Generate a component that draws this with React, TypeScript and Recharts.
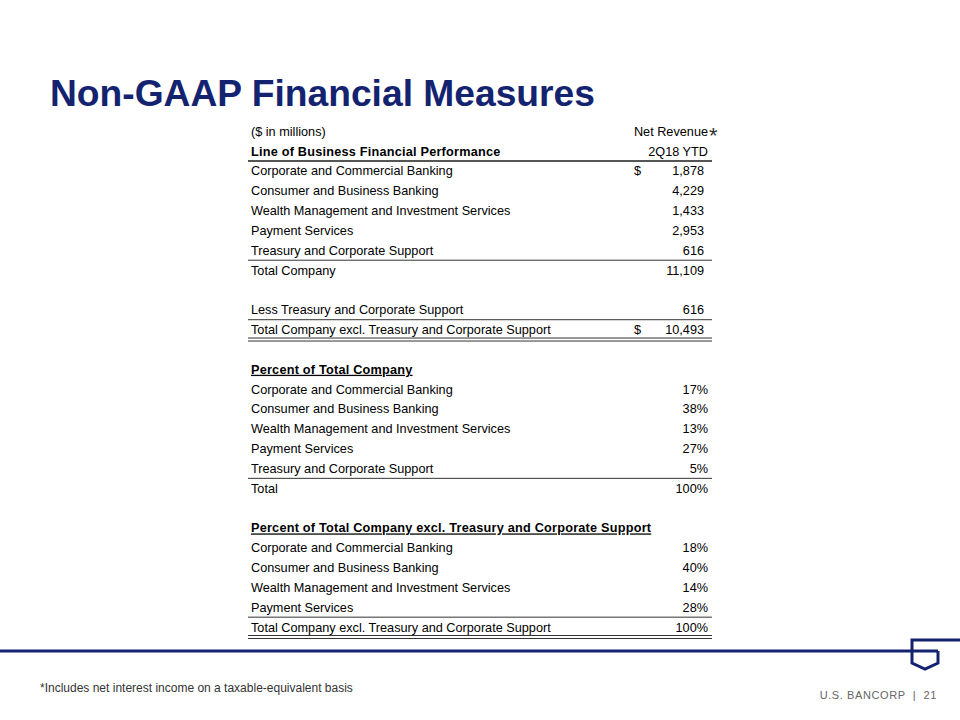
import { ComposedChart, XAxis, YAxis, Bar, ReferenceLine } from 'recharts'

const segments = [
  'Corporate and Commercial Banking',
  'Consumer and Business Banking',
  'Wealth Management and Investment Services',
  'Payment Services',
  'Treasury and Corporate Support',
]
const netRevenue = [1878, 4229, 1433, 2953, 616]
const totalCompany = 11109
const lessTreasury = 616
const totalExclTreasury = 10493
const pctOfTotal = [17, 38, 13, 27, 5]
const pctOfTotalSum = 100
const pctExclTreasury = [18, 40, 14, 28]
const pctExclTreasurySum = 100

type Rule = 'thick' | 'single' | 'double'
interface Row {
  key: string
  label: string
  value?: string
  bold?: boolean
  under?: boolean
  dollar?: boolean
  pct?: boolean
  head?: boolean
  star?: boolean
  rule?: Rule
  v: number
}

const fmt = (n: number) => n.toLocaleString('en-US')

const rows: Row[] = []
const add = (r: Omit<Row, 'key' | 'v'>) => rows.push({ key: 'r' + rows.length, v: 0, ...r })

add({ label: '($ in millions)', value: 'Net Revenue', head: true, star: true })
add({ label: 'Line of Business Financial Performance', value: '2Q18 YTD', head: true, bold: true, rule: 'thick' })
segments.forEach((s, i) =>
  add({ label: s, value: fmt(netRevenue[i]), dollar: i === 0, rule: i === segments.length - 1 ? 'single' : undefined }))
add({ label: 'Total Company', value: fmt(totalCompany) })
add({ label: '' })
add({ label: 'Less Treasury and Corporate Support', value: fmt(lessTreasury), rule: 'single' })
add({ label: 'Total Company excl. Treasury and Corporate Support', value: fmt(totalExclTreasury), dollar: true, rule: 'double' })
add({ label: '' })
add({ label: 'Percent of Total Company', bold: true, under: true })
segments.forEach((s, i) =>
  add({ label: s, value: pctOfTotal[i] + '%', pct: true, rule: i === segments.length - 1 ? 'single' : undefined }))
add({ label: 'Total', value: pctOfTotalSum + '%', pct: true })
add({ label: '' })
add({ label: 'Percent of Total Company excl. Treasury and Corporate Support', bold: true, under: true })
pctExclTreasury.forEach((p, i) =>
  add({ label: segments[i], value: p + '%', pct: true, rule: i === pctExclTreasury.length - 1 ? 'single' : undefined }))
add({ label: 'Total Company excl. Treasury and Corporate Support', value: pctExclTreasurySum + '%', pct: true, rule: 'double' })

const byKey: Record<string, Row> = Object.fromEntries(rows.map((r) => [r.key, r]))

const FONT = 'Arial, "Liberation Sans", sans-serif'
const NAVY = '#142370'
const LINE = '#333333'

function RowTick(props: any) {
  const { y, payload } = props
  const r = byKey[payload.value]
  if (!r) return null
  const ty = y + 4.5
  const valueEnd = r.head || r.pct ? 708 : 704
  return (
    <g fontFamily={FONT} fontSize={12.7} fill="#000">
      <text
        x={251}
        y={ty}
        fontWeight={r.bold ? 700 : 400}
        letterSpacing={r.bold ? 0.22 : 0}
        textDecoration={r.under ? 'underline' : undefined}
      >
        {r.label}
      </text>
      {r.dollar && <text x={634} y={ty}>$</text>}
      {r.value && (
        <text x={valueEnd} y={ty} textAnchor="end">
          {r.value}
        </text>
      )}
      {r.star && (
        <text x={709} y={ty + 7} fontSize={22} fill="#333">
          *
        </text>
      )}
    </g>
  )
}

function DoubleLine(p: any) {
  return (
    <g>
      <line x1={p.x1} x2={p.x2} y1={p.y1 - 1.5} y2={p.y2 - 1.5} stroke={LINE} strokeWidth={1} />
      <line x1={p.x1} x2={p.x2} y1={p.y1 + 1.5} y2={p.y2 + 1.5} stroke={LINE} strokeWidth={1} />
    </g>
  )
}

export default function App() {
  return (
    <div style={{ position: 'absolute', left: 0, top: 0, width: 960, height: 720, background: '#fff' }}>
      <ComposedChart
        width={960}
        height={720}
        layout="vertical"
        data={rows}
        margin={{ top: 121.4, right: 248, bottom: 83, left: 0 }}
      >
        <XAxis type="number" domain={[0, 1]} hide />
        <YAxis
          type="category"
          dataKey="key"
          width={248}
          interval={0}
          axisLine={false}
          tickLine={false}
          tick={(p: any) => <RowTick {...p} />}
        />
        <Bar dataKey="v" fill="none" isAnimationActive={false} />
        {rows
          .filter((r) => r.rule)
          .map((r) =>
            r.rule === 'double' ? (
              <ReferenceLine key={r.key} y={r.key} position="end" shape={(p: any) => <DoubleLine {...p} />} />
            ) : (
              <ReferenceLine
                key={r.key}
                y={r.key}
                position="end"
                stroke={r.rule === 'thick' ? '#555' : LINE}
                strokeWidth={r.rule === 'thick' ? 2 : 1}
              />
            ),
          )}
      </ComposedChart>

      <svg width={960} height={720} style={{ position: 'absolute', left: 0, top: 0, pointerEvents: 'none' }}>
        <text x={50} y={106} fontFamily={FONT} fontSize={37.2} fontWeight={700} fill={NAVY}>
          Non-GAAP Financial Measures
        </text>
        <g stroke={NAVY} strokeWidth={3} fill="none">
          <line x1={0} x2={938} y1={651} y2={651} />
          <polyline points="960,640 912,640 912,663 925,669 938,663 938,651" />
        </g>
        <text x={40} y={692} fontFamily={FONT} fontSize={12} fill="#333">
          *Includes net interest income on a taxable-equivalent basis
        </text>
        <text
          x={937}
          y={699}
          fontFamily={FONT}
          fontSize={11}
          fill="#666"
          letterSpacing={0.6}
          textAnchor="end"
          style={{ whiteSpace: 'pre' }}
        >
          {'U.S. BANCORP  |  21'}
        </text>
      </svg>
    </div>
  )
}
